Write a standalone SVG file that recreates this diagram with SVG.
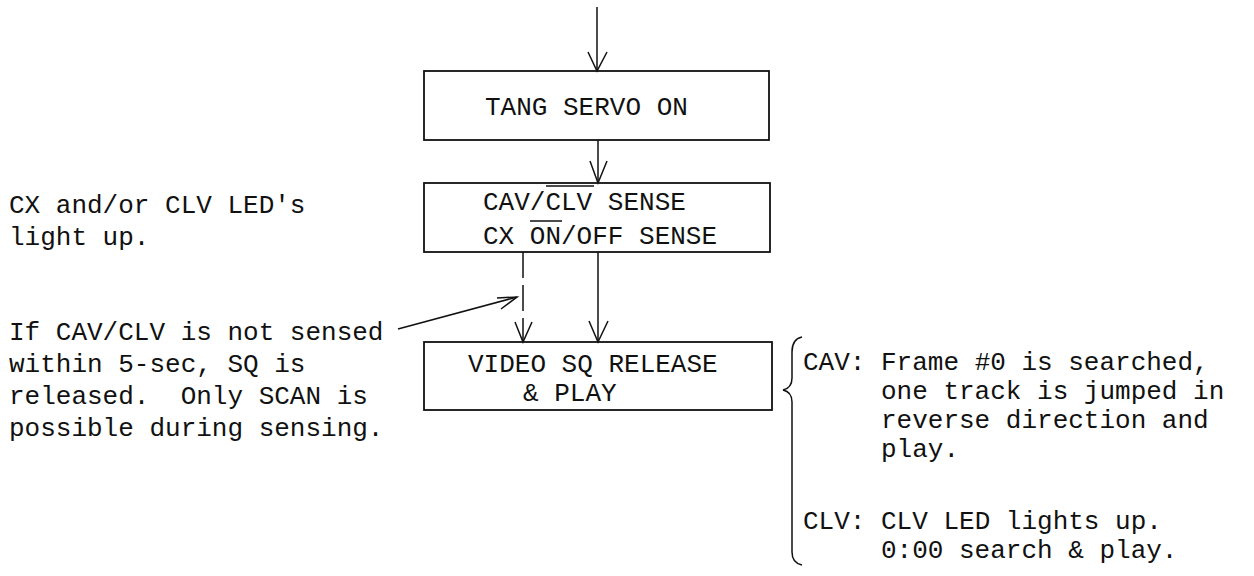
<svg xmlns="http://www.w3.org/2000/svg" width="1254" height="576" viewBox="0 0 1254 576">
<defs>
<style>
.t{font-family:"Liberation Mono","DejaVu Sans Mono",monospace;font-size:26px;fill:#111}
.box{fill:none;stroke:#111;stroke-width:1.8}
.ln{fill:none;stroke:#111;stroke-width:1.5}
.ah{fill:none;stroke:#111;stroke-width:1.5;stroke-linejoin:miter}
</style>
</defs>
<rect width="1254" height="576" fill="#fff"/>
<g id="connectors">
<line class="ln" x1="597" y1="7" x2="597" y2="71"/>
<polyline class="ah" points="588,52 597,71 607,52"/>
<line class="ln" x1="598" y1="140" x2="598" y2="183"/>
<polyline class="ah" points="590,161 598,183 607,161"/>
<line class="ln" x1="523" y1="252" x2="523" y2="342" stroke-dasharray="26 7"/>
<polyline class="ah" points="515,322 523,342 532,322"/>
<line class="ln" x1="598" y1="252" x2="598" y2="342"/>
<polyline class="ah" points="589,321 598,342 608,321"/>
<line class="ln" x1="398" y1="329" x2="517" y2="297"/>
<polyline class="ah" points="497,298 517,297 501,309"/>
<path class="ln" d="M802,337 Q792,339 792,352 L792,378 Q792,388 783,390 Q792,392 792,402 L792,552 Q792,563 802,565"/>
</g>
<g id="node-tang">
<rect class="box" x="424" y="71" width="345" height="69"/>
<text class="t" x="485" y="115">TANG SERVO ON</text>
</g>
<g id="node-sense">
<rect class="box" x="424" y="183" width="346" height="69"/>
<text class="t" x="483" y="210">CAV/CLV SENSE</text>
<text class="t" x="483" y="244">CX ON/OFF SENSE</text>
<line class="ln" x1="546" y1="186" x2="594" y2="186"/>
<line class="ln" x1="530" y1="221" x2="562" y2="221"/>
</g>
<g id="node-video">
<rect class="box" x="424" y="342" width="348" height="68"/>
<text class="t" x="468" y="372">VIDEO SQ RELEASE</text>
<text class="t" x="523" y="401">&amp; PLAY</text>
</g>
<g id="note-led">
<text class="t" x="9" y="213">CX and/or CLV LED's</text>
<text class="t" x="9" y="245">light up.</text>
</g>
<g id="note-timeout">
<text class="t" x="9" y="340">If CAV/CLV is not sensed</text>
<text class="t" x="9" y="372">within 5-sec, SQ is</text>
<text class="t" x="9" y="404" xml:space="preserve">released.  Only SCAN is</text>
<text class="t" x="9" y="436">possible during sensing.</text>
</g>
<g id="note-modes">
<text class="t" x="803" y="370" xml:space="preserve">CAV: Frame #0 is searched,</text>
<text class="t" x="881" y="399">one track is jumped in</text>
<text class="t" x="881" y="428">reverse direction and</text>
<text class="t" x="881" y="457">play.</text>
<text class="t" x="803" y="529" xml:space="preserve">CLV: CLV LED lights up.</text>
<text class="t" x="881" y="558">0:00 search &amp; play.</text>
</g>
</svg>
